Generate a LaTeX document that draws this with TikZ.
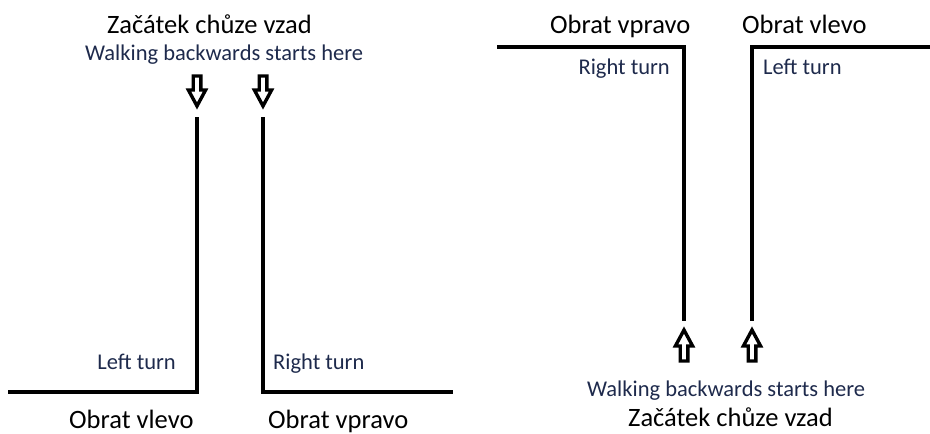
\documentclass[tikz,border=0pt]{standalone}
\usepackage{fontspec}
\setmainfont{Carlito}
\definecolor{labnavy}{RGB}{30,42,76}
\tikzset{
  big/.style={font=\fontsize{26.5}{30}\selectfont, text=black, inner sep=0pt},
  small/.style={font=\fontsize{22.5}{26}\selectfont, text=labnavy, inner sep=0pt},
  path line/.style={line width=4.5pt, line join=miter, line cap=rect},
  arrowline/.style={line width=3.4pt, line join=miter, miter limit=10, fill=white},
  darrow/.pic={\draw[arrowline] (-3.8,0) -- (3.8,0) -- (3.8,14) -- (8.6,14) -- (0,30) -- (-8.6,14) -- (-3.8,14) -- cycle;},
  uarrow/.pic={\draw[arrowline] (-3.8,0) -- (3.8,0) -- (3.8,-15) -- (8.6,-15) -- (0,-31) -- (-8.6,-15) -- (-3.8,-15) -- cycle;}
}
\begin{document}
\begin{tikzpicture}[x=1pt,y=-1pt]
\useasboundingbox (0,0) rectangle (930,434);
% ---------- left diagram ----------
\node[big, anchor=base west] (zL) at (107,33) {Začátek chůze vzad};
\node[small, anchor=base west] (wL) at (85,60) {Walking backwards starts here};
\pic (aL1) at (197,76) {darrow};
\pic (aL2) at (263,76) {darrow};
\coordinate (l1top) at (197,119);
\coordinate (l1corner) at (197,392);
\coordinate (l1end) at (10,392);
\coordinate (l2top) at (263,119);
\coordinate (l2corner) at (263,392);
\coordinate (l2end) at (451,392);
\draw[path line] (l1top) -- (l1corner) -- (l1end);
\draw[path line] (l2top) -- (l2corner) -- (l2end);
\node[small, anchor=base east] (ltL) at (176,369) {Left turn};
\node[small, anchor=base west] (rtL) at (273,369) {Right turn};
\node[big, anchor=base west, text depth=0pt] (ovL) at (69,428.5) {Obrat vlevo};
\node[big, anchor=base west, text depth=0pt] (opL) at (268,428.5) {Obrat vpravo};
% ---------- right diagram ----------
\node[big, anchor=base west] (opR) at (550,33) {Obrat vpravo};
\node[big, anchor=base west] (ovR) at (742,33) {Obrat vlevo};
\coordinate (r1end) at (499,47);
\coordinate (r1corner) at (684,47);
\coordinate (r1bot) at (684,319);
\coordinate (r2end) at (932,47);
\coordinate (r2corner) at (752,47);
\coordinate (r2bot) at (752,319);
\draw[path line] (r1end) -- (r1corner) -- (r1bot);
\draw[path line] (r2end) -- (r2corner) -- (r2bot);
\node[small, anchor=base east] (rtR) at (670,74) {Right turn};
\node[small, anchor=base west] (ltR) at (763,74) {Left turn};
\pic (aR1) at (684,361) {uarrow};
\pic (aR2) at (752,361) {uarrow};
\node[small, anchor=base west] (wR) at (587,396) {Walking backwards starts here};
\node[big, anchor=base west] (zR) at (628,426) {Začátek chůze vzad};
\end{tikzpicture}
\end{document}
